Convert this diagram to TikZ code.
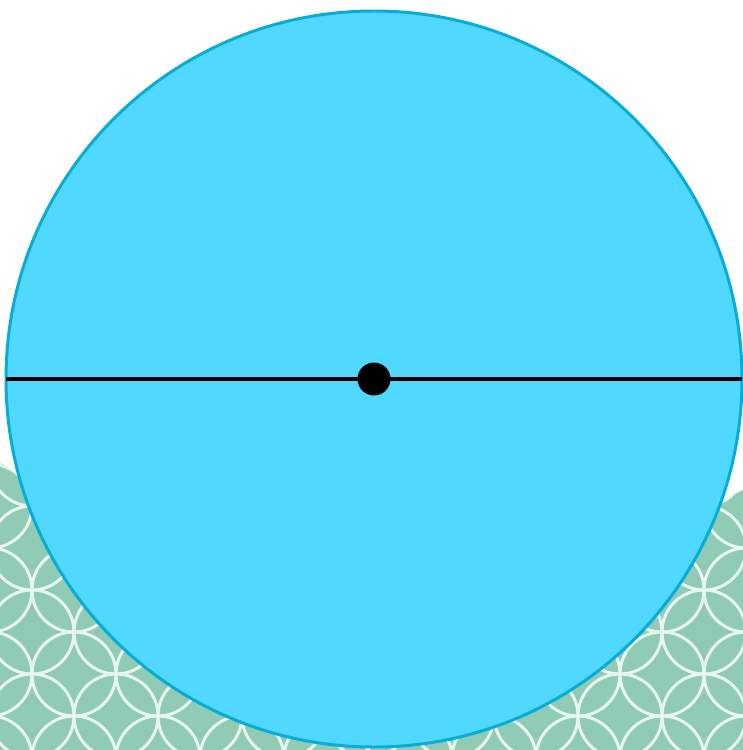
\documentclass[tikz,border=0pt]{standalone}
\definecolor{discblue}{RGB}{80,216,255}
\definecolor{discedge}{RGB}{8,172,216}
\definecolor{patgreen}{RGB}{143,203,181}
\definecolor{patline}{RGB}{232,246,240}
\tikzset{
  ringline/.style={draw=patline, line width=1.7pt},
  disc/.style={fill=discblue, draw=discedge, line width=1.7pt},
  diameter/.style={draw=black, line width=2.3pt},
  centredot/.style={circle, fill=black, inner sep=0pt, minimum size=0.66cm}
}
\begin{document}
\begin{tikzpicture}[x=0.02cm,y=-0.02cm]
\useasboundingbox (0,0) rectangle (743,750);
\fill[white] (0,0) rectangle (743,750);
% patterned background
\begin{scope}
  \clip (0,462) .. controls (40,490) and (80,530) .. (150,600)
        -- (600,600) .. controls (660,540) and (700,510) .. (743,490)
        -- (743,750) -- (0,750) -- cycle;
  \fill[patgreen] (0,400) rectangle (743,750);
  \foreach \i in {-2,...,19}{
    \foreach \j in {-5,...,5}{
      \pgfmathtruncatemacro{\myparity}{mod(abs(\i+\j),2)}
      \ifnum\myparity=1
        \draw[ringline] ({32+42*\i},{590+42*\j}) circle (42);
      \fi
    }
  }
\end{scope}
% main disc
\node[circle, inner sep=0pt, minimum size=14.72cm] (c) at (374,379) {};
\draw[disc] (374,379) circle (368);
\coordinate (l) at (6,379);
\coordinate (r) at (742,379);
\draw[diameter] (l) -- (r);
\node[centredot] (o) at (374,379) {};
\end{tikzpicture}
\end{document}
